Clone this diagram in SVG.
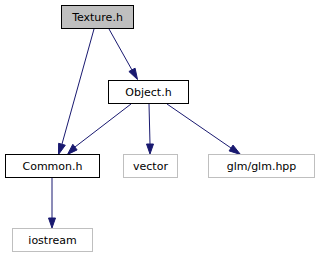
<svg xmlns="http://www.w3.org/2000/svg" width="320" height="261" viewBox="0 0 320 261">
<style>
  .box { fill: #ffffff; stroke: #000000; stroke-width: 1; }
  .ext { fill: #ffffff; stroke: #bfbfbf; stroke-width: 1; }
  .cur { fill: #bfbfbf; stroke: #000000; stroke-width: 1; }
  .lbl { font-family: "DejaVu Sans", sans-serif; font-size: 11px; text-anchor: middle; fill: #000000; }
  .edge { fill: none; stroke: #191970; stroke-width: 1; }
  .head { fill: #191970; stroke: #191970; stroke-width: 1; }
</style>
<rect x="0" y="0" width="320" height="261" fill="#ffffff"/>

<g id="connectors">
  <!-- Texture.h -> Common.h -->
  <path class="edge" d="M94,29 L62,144"/>
  <polygon class="head" points="58.6,143.3 58.5,154.5 65.3,145.2"/>
  <!-- Texture.h -> Object.h -->
  <path class="edge" d="M109,29 L132,70"/>
  <polygon class="head" points="128.9,71.5 137.5,79.5 135.1,68.2"/>
  <!-- Object.h -> Common.h -->
  <path class="edge" d="M131,104 L75,147"/>
  <polygon class="head" points="72.8,144.3 67.5,154.5 77.1,149.9"/>
  <!-- Object.h -> vector -->
  <path class="edge" d="M149,104 L150,144"/>
  <polygon class="head" points="146.5,144 150,154 153.5,144"/>
  <!-- Object.h -> glm/glm.hpp -->
  <path class="edge" d="M167,104 L231,148"/>
  <polygon class="head" points="229.1,150.9 240.5,154.5 233,145.1"/>
  <!-- Common.h -> iostream -->
  <path class="edge" d="M52,178 L52,218"/>
  <polygon class="head" points="48.5,218 52,228 55.5,218"/>
</g>

<g id="node-texture">
  <rect class="cur" x="61.5" y="5.5" width="72" height="23"/>
  <text class="lbl" x="97.5" y="21">Texture.h</text>
</g>
<g id="node-object">
  <rect class="box" x="108.5" y="80.5" width="80" height="23"/>
  <text class="lbl" x="148.5" y="96">Object.h</text>
</g>
<g id="node-common">
  <rect class="box" x="5.5" y="154.5" width="94" height="23"/>
  <text class="lbl" x="52.5" y="170">Common.h</text>
</g>
<g id="node-vector">
  <rect class="ext" x="123.5" y="154.5" width="54" height="23"/>
  <text class="lbl" x="150.5" y="170">vector</text>
</g>
<g id="node-glm">
  <rect class="ext" x="208.5" y="154.5" width="106" height="23"/>
  <text class="lbl" x="261.5" y="170">glm/glm.hpp</text>
</g>
<g id="node-iostream">
  <rect class="ext" x="12.5" y="228.5" width="80" height="23"/>
  <text class="lbl" x="52.5" y="244">iostream</text>
</g>
</svg>
